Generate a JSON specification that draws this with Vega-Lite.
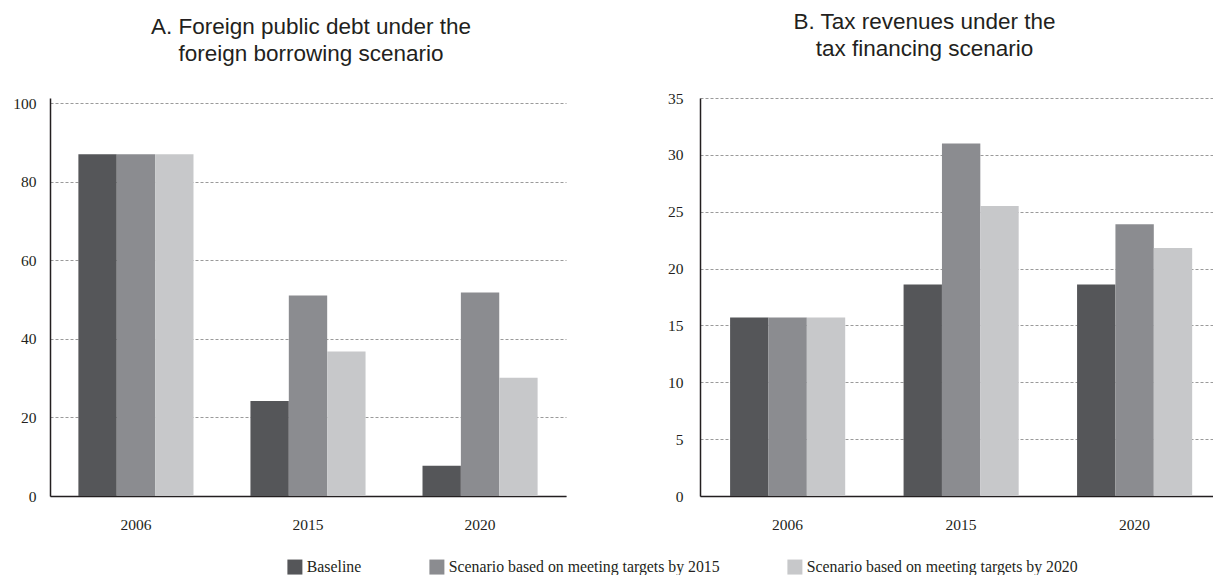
{
  "$schema": "https://vega.github.io/schema/vega-lite/v6.json",
  "background": "white",
  "padding": {"left": 12, "top": 10, "right": 0, "bottom": 0},
  "data": {"values": [
    {"panel": "A", "year": "2006", "scenario": "Baseline", "value": 87},
    {"panel": "A", "year": "2006", "scenario": "Scenario based on meeting targets by 2015", "value": 87},
    {"panel": "A", "year": "2006", "scenario": "Scenario based on meeting targets by 2020", "value": 87},
    {"panel": "A", "year": "2015", "scenario": "Baseline", "value": 24.2},
    {"panel": "A", "year": "2015", "scenario": "Scenario based on meeting targets by 2015", "value": 51},
    {"panel": "A", "year": "2015", "scenario": "Scenario based on meeting targets by 2020", "value": 36.8},
    {"panel": "A", "year": "2020", "scenario": "Baseline", "value": 7.7},
    {"panel": "A", "year": "2020", "scenario": "Scenario based on meeting targets by 2015", "value": 51.8},
    {"panel": "A", "year": "2020", "scenario": "Scenario based on meeting targets by 2020", "value": 30.1},
    {"panel": "B", "year": "2006", "scenario": "Baseline", "value": 15.7},
    {"panel": "B", "year": "2006", "scenario": "Scenario based on meeting targets by 2015", "value": 15.7},
    {"panel": "B", "year": "2006", "scenario": "Scenario based on meeting targets by 2020", "value": 15.7},
    {"panel": "B", "year": "2015", "scenario": "Baseline", "value": 18.6},
    {"panel": "B", "year": "2015", "scenario": "Scenario based on meeting targets by 2015", "value": 31},
    {"panel": "B", "year": "2015", "scenario": "Scenario based on meeting targets by 2020", "value": 25.5},
    {"panel": "B", "year": "2020", "scenario": "Baseline", "value": 18.6},
    {"panel": "B", "year": "2020", "scenario": "Scenario based on meeting targets by 2015", "value": 23.9},
    {"panel": "B", "year": "2020", "scenario": "Scenario based on meeting targets by 2020", "value": 21.8}
  ]},
  "spacing": 101,
  "config": {
    "view": {"stroke": null},
    "axis": {
      "labelFont": "Liberation Serif", "labelFontSize": 15.5, "labelColor": "#231f20",
      "domainColor": "#231f20", "domainWidth": 1.5, "ticks": false, "tickSize": 0,
      "title": null
    },
    "axisY": {"gridDash": [3, 2], "gridColor": "#9a9a9a", "gridWidth": 1, "labelPadding": 14},
    "axisX": {"grid": false, "labelPadding": 21, "labelAngle": 0},
    "title": {"font": "Liberation Sans", "fontSize": 22.5, "fontWeight": "normal", "color": "#231f20", "lineHeight": 27, "anchor": "middle", "frame": "group"},
    "legend": {"labelFont": "Liberation Serif", "labelFontSize": 15.8, "labelColor": "#231f20", "symbolType": "square", "symbolSize": 225, "symbolStrokeWidth": 0, "labelOffset": 4, "columnPadding": 67, "padding": 0, "labelLimit": 400}
  },
  "hconcat": [
    {
      "title": {"text": ["A. Foreign public debt under the", "foreign borrowing scenario"], "offset": 31, "dx": 3},
      "width": 516, "height": 398,
      "transform": [{"filter": "datum.panel == 'A'"}],
      "mark": {"type": "bar"},
      "encoding": {
        "x": {"field": "year", "type": "nominal", "scale": {"paddingInner": 0.331, "paddingOuter": 0.165}},
        "xOffset": {"field": "scenario", "type": "nominal", "sort": ["Baseline", "Scenario based on meeting targets by 2015", "Scenario based on meeting targets by 2020"]},
        "y": {"field": "value", "type": "quantitative", "scale": {"domain": [0, 101.3], "nice": false}, "axis": {"values": [0, 20, 40, 60, 80, 100]}},
        "color": {"field": "scenario", "type": "nominal", "title": null,
          "scale": {"domain": ["Baseline", "Scenario based on meeting targets by 2015", "Scenario based on meeting targets by 2020"], "range": ["#555659", "#8b8c90", "#c7c8ca"]},
          "legend": {"orient": "none", "direction": "horizontal", "legendX": 237, "legendY": 461}}
      }
    },
    {
      "title": {"text": ["B. Tax revenues under the", "tax financing scenario"], "offset": 31, "dx": -32},
      "width": 513, "height": 398,
      "transform": [{"filter": "datum.panel == 'B'"}],
      "mark": {"type": "bar"},
      "encoding": {
        "x": {"field": "year", "type": "nominal", "scale": {"paddingInner": 0.337, "paddingOuter": 0.147, "align": 0.59}},
        "xOffset": {"field": "scenario", "type": "nominal", "sort": ["Baseline", "Scenario based on meeting targets by 2015", "Scenario based on meeting targets by 2020"]},
        "y": {"field": "value", "type": "quantitative", "scale": {"domain": [0, 35], "nice": false}, "axis": {"values": [0, 5, 10, 15, 20, 25, 30, 35], "labelPadding": 17}},
        "color": {"field": "scenario", "type": "nominal"}
      }
    }
  ]
}
